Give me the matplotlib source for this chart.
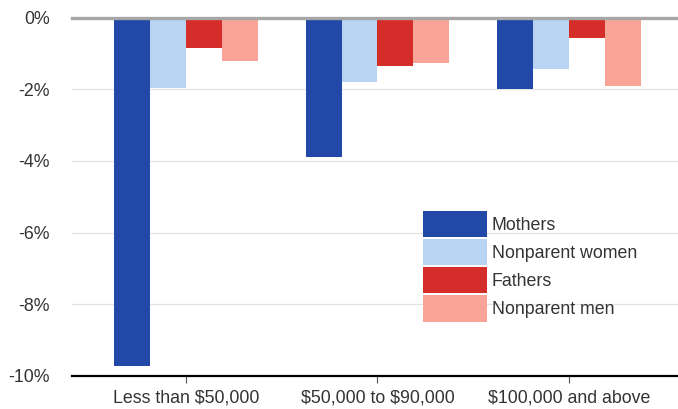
import matplotlib.pyplot as plt
import numpy as np

plt.rcParams['font.family'] = ['Liberation Sans', 'DejaVu Sans']
plt.rcParams['text.parse_math'] = False

categories = ['Less than $50,000', '$50,000 to $90,000', '$100,000 and above']
series = ['Mothers', 'Nonparent women', 'Fathers', 'Nonparent men']
mothers = [-9.72, -3.89, -2.0]
nonparent_women = [-1.96, -1.79, -1.44]
fathers = [-0.86, -1.36, -0.58]
nonparent_men = [-1.22, -1.27, -1.91]
y_ticks = [0, -2, -4, -6, -8, -10]

colors = ['#2249a7', '#b9d4f2', '#d52e2a', '#f9a497']
text_color = '#333333'
fs = 12.8

fig = plt.figure(figsize=(6.78, 4.09), dpi=100)
ax = fig.add_axes([72 / 678, 33 / 409, 606 / 678, 358.4 / 409])

x = np.arange(len(categories))
w = 0.187
all_values = [mothers, nonparent_women, fathers, nonparent_men]
for i, (vals, name, c) in enumerate(zip(all_values, series, colors)):
    ax.bar(x + (i - 1.5) * w, vals, width=w, color=c, label=name, zorder=2, linewidth=0)

# grey zero line drawn over the bar tops
ax.axhline(0, color='#a6a6a6', lw=2.4, zorder=4, clip_on=False)

ax.set_xlim(-0.595, 2.569)
ax.set_ylim(-10, 0)
ax.set_yticks(y_ticks)
ax.set_yticklabels([f'{v}%' for v in y_ticks])
ax.set_xticks(x)
ax.set_xticklabels(categories)

for s in ['top', 'left', 'right']:
    ax.spines[s].set_visible(False)
ax.spines['bottom'].set_color('black')
ax.spines['bottom'].set_linewidth(1.6)
ax.spines['bottom'].set_zorder(5)

ax.yaxis.grid(True, color='#e3e3e3', lw=0.9)
ax.set_axisbelow(True)

ax.tick_params(axis='y', length=0, pad=16, labelsize=fs, labelcolor=text_color)
ax.tick_params(axis='x', length=5, width=0.8, color='#555555', pad=5,
               labelsize=fs, labelcolor=text_color)

ax.legend(loc='upper left', bbox_to_anchor=(0.579, 0.4604), frameon=False,
          borderpad=0, borderaxespad=0, handlelength=3.6, handleheight=1.9,
          labelspacing=0.1, handletextpad=0.28, fontsize=fs, labelcolor=text_color)

fig.savefig('out.png', dpi=100)
